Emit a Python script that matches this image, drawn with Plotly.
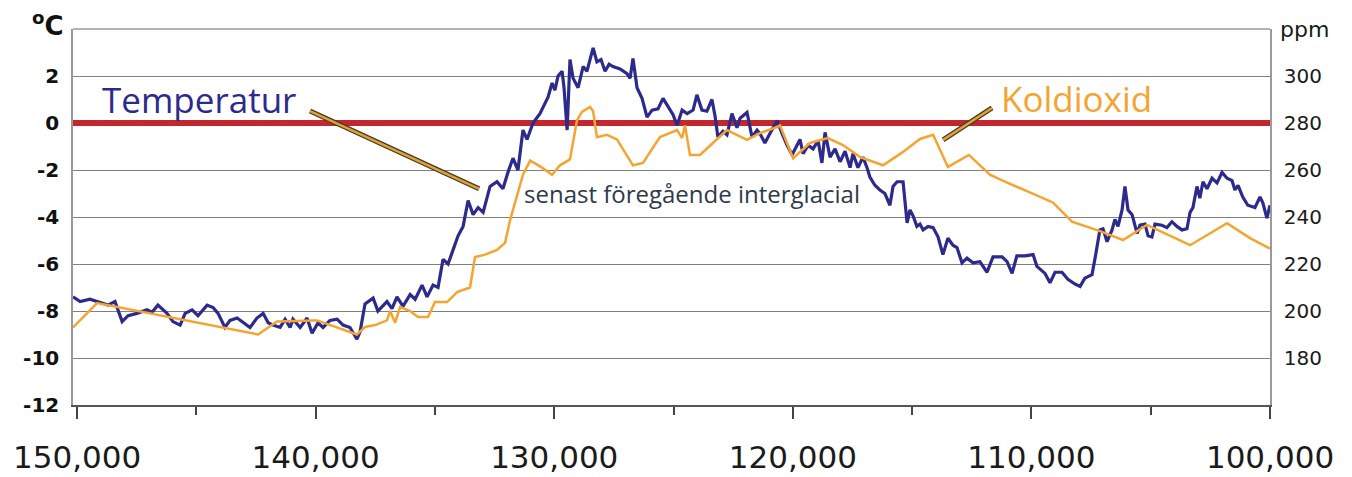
import plotly.graph_objects as go

# temperature anomaly (deg C), years before present
temp_age = [
    150170, 149870, 149460, 149040, 148700, 148410, 148110, 147860, 147490, 147070,
    146860, 146610, 146230, 145980, 145680, 145470, 145180, 144930, 144550, 144300,
    144090, 143800, 143590, 143290, 143040, 142750, 142460, 142200, 141990, 141790,
    141490, 141280, 141070, 140950, 140650, 140360, 140150, 139900, 139690, 139400,
    139100, 138850, 138560, 138270, 138140, 137930, 137590, 137390, 137010, 136800,
    136590, 136340, 136040, 135830, 135540, 135330, 135080, 134870, 134660, 134450,
    134240, 134030, 133820, 133610, 133400, 133190, 132980, 132690, 132400, 132150,
    131940, 131730, 131520, 131310, 131140, 130890, 130600, 130390, 130260, 130090,
    129970, 129840, 129670, 129590, 129460, 129340, 129210, 129000, 128790, 128630,
    128500, 128370, 128210, 128040, 127870, 127700, 127540, 127240, 126950, 126820,
    126700, 126530, 126320, 126110, 125900, 125650, 125440, 125230, 125020, 124850,
    124640, 124430, 124180, 124020, 123810, 123600, 123390, 123260, 123140, 122930,
    122760, 122550, 122340, 122210, 121920, 121710, 121500, 121380, 121170, 120960,
    120660, 120450, 120240, 120030, 119820, 119700, 119570, 119360, 119150, 118940,
    118780, 118650, 118440, 118230, 118020, 117810, 117600, 117480, 117270, 117060,
    116890, 116770, 116560, 116350, 116140, 115930, 115800, 115630, 115380, 115210,
    115090, 114960, 114800, 114670, 114540, 114330, 114120, 113910, 113710, 113500,
    113290, 113120, 112910, 112700, 112450, 112160, 111860, 111610, 111230, 111020,
    110810, 110610, 110270, 109930, 109770, 109430, 109220, 109010, 108720, 108470,
    108170, 107960, 107760, 107460, 107340, 107130, 107000, 106830, 106620, 106500,
    106370, 106200, 106080, 105950, 105780, 105570, 105450, 105240, 105110, 104950,
    104820, 104530, 104320, 104110, 103900, 103690, 103480, 103350, 103230, 103060,
    102940, 102810, 102640, 102430, 102220, 102010, 101800, 101590, 101470, 101340,
    101140, 100930, 100630, 100420, 100300, 100130, 100000,
]
temp_c = [
    -7.4, -7.6, -7.5, -7.65, -7.75, -7.6, -8.45, -8.2, -8.1, -7.95,
    -8.05, -7.75, -8.1, -8.45, -8.6, -8.1, -7.95, -8.2, -7.75, -7.85,
    -8.1, -8.7, -8.4, -8.3, -8.5, -8.7, -8.3, -8.1, -8.5, -8.6,
    -8.7, -8.35, -8.7, -8.35, -8.7, -8.3, -8.95, -8.5, -8.7, -8.4,
    -8.35, -8.6, -8.7, -9.2, -8.9, -7.7, -7.45, -8.0, -7.6, -7.9,
    -7.4, -7.8, -7.3, -7.5, -6.9, -7.4, -6.9, -7.0, -5.8, -6.0,
    -5.4, -4.8, -4.4, -3.3, -3.9, -3.6, -3.8, -2.7, -2.5, -2.8,
    -2.1, -1.5, -2.0, -0.3, -0.7, 0.0, 0.4, 0.8, 1.1, 1.7,
    1.4, 2.0, 2.2, 1.5, -0.3, 2.7, 1.9, 1.5, 2.4, 2.2,
    2.75, 3.2, 2.6, 2.7, 2.2, 2.5, 2.4, 2.3, 2.1, 1.9,
    2.75, 1.5, 1.05, 0.25, 0.55, 0.6, 1.05, 0.7, 0.35, -0.1,
    0.55, 0.4, 0.55, 1.2, 0.55, 0.5, 1.0, 0.3, -0.6, -0.35,
    -0.5, 0.4, -0.2, 0.2, 0.45, -0.6, -0.3, -0.45, -0.85, -0.45,
    0.1, -0.45, -0.95, -1.35, -0.95, -0.7, -1.3, -0.95, -1.1, -0.75,
    -1.7, -0.4, -1.45, -1.1, -1.65, -1.2, -1.9, -1.3, -1.9, -1.45,
    -1.9, -2.3, -2.65, -2.85, -3.0, -3.5, -2.7, -2.5, -2.5, -4.25,
    -3.7, -3.95, -4.4, -4.3, -4.55, -4.4, -4.45, -4.85, -5.6, -4.9,
    -5.2, -5.3, -5.95, -5.75, -5.95, -5.9, -6.35, -5.7, -5.7, -5.9,
    -6.4, -5.65, -5.65, -5.6, -6.1, -6.4, -6.8, -6.35, -6.35, -6.65,
    -6.85, -6.95, -6.6, -6.45, -5.8, -4.55, -4.5, -5.05, -4.55, -4.1,
    -4.4, -3.7, -2.7, -3.7, -3.9, -4.7, -4.35, -4.3, -4.8, -4.85,
    -4.3, -4.35, -4.45, -4.2, -4.4, -4.55, -4.5, -3.8, -3.6, -2.7,
    -3.2, -2.5, -2.8, -2.35, -2.55, -2.1, -2.35, -2.45, -2.85, -2.65,
    -3.15, -3.5, -3.6, -3.15, -3.4, -4.05, -3.5,
]

# carbon dioxide (ppm)
co2_age = [
    150170, 149160, 142410, 141620, 140110, 139940, 138270, 137930, 137510, 137010,
    136880, 136670, 136460, 136040, 135710, 135290, 135000, 134490, 134070, 133530,
    133320, 132900, 132400, 132060, 131850, 131560, 131310, 131010, 130510, 130090,
    129760, 129340, 129050, 128840, 128500, 128370, 128210, 127790, 127370, 126700,
    126280, 125570, 124850, 124640, 124520, 124310, 123890, 123350, 122760, 121920,
    121380, 120660, 120540, 119990, 119280, 118530, 117900, 117180, 116220, 115380,
    114670, 114120, 113500, 112620, 111740, 111320, 109100, 108300, 107130, 106160,
    105160, 103350, 101800, 100840, 100000,
]
co2_ppm = [
    193, 203.4, 190, 195.5, 196, 196, 190, 193.2, 194, 196,
    200, 195, 201.7, 200, 197.4, 197.4, 203.8, 203.8, 208, 210,
    223, 224, 226, 229, 238.7, 248.5, 258, 264, 261, 258,
    262, 264.5, 281, 284.7, 286.8, 285, 274, 275, 273, 262,
    263, 274, 277, 273.6, 279, 266.4, 266.4, 271.5, 277, 272.8,
    275.7, 278.3, 279, 265, 271.5, 273.6, 270.6, 265.5, 262, 267.7,
    273.2, 275, 261.3, 266.4, 258, 256, 246.2, 238, 234, 230.2,
    236.6, 228, 237.4, 231, 226.5,
]

age_ticks = [150000, 140000, 130000, 120000, 110000, 100000]
temp_ticks = [-12, -10, -8, -6, -4, -2, 0, 2]
temp_labels = ["-12", "-10", "-8", "-6", "-4", "-2", "0", "2"]
co2_ticks = [180, 200, 220, 240, 260, 280, 300]

NAVY = "#2c2a8c"
ORANGE = "#f5a431"
GRID = "#808080"

fig = go.Figure()
fig.add_trace(go.Scatter(x=temp_age, y=temp_c, mode="lines",
                         line=dict(color=NAVY, width=3.2), name="Temperatur"))
fig.add_trace(go.Scatter(x=co2_age, y=co2_ppm, mode="lines", yaxis="y2",
                         line=dict(color=ORANGE, width=2.5), name="Koldioxid"))

# the page body keeps its default 8px margin, so the figure is 8px smaller
fig.update_layout(
    width=1344, height=469,
    margin=dict(l=65, r=82, t=21, b=72),
    plot_bgcolor="white",
    paper_bgcolor="white",
    showlegend=False,
    xaxis=dict(
        range=[150170, 100000],
        tickvals=age_ticks,
        tickformat=",d",
        automargin=False,
        showgrid=False, zeroline=False,
        showline=True, linecolor="#555", linewidth=1.5,
        ticks="outside", ticklen=12, tickwidth=1.5, tickcolor="#444",
        minor=dict(dtick=5000, tick0=100000, ticks="outside", ticklen=8,
                   tickwidth=1.5, tickcolor="#444"),
        tickfont=dict(family="DejaVu Sans", size=31, color="#1a1a1a"),
        ticklabelstandoff=12,
    ),
    yaxis=dict(
        range=[-12, 4],
        tickvals=temp_ticks,
        ticktext=temp_labels,
        automargin=False,
        showgrid=True, gridcolor=GRID, gridwidth=1.3,
        zeroline=True, zerolinecolor="#c1272d", zerolinewidth=6,
        showline=True, linecolor="#9a9a9a", linewidth=1.5,
        tickfont=dict(family="DejaVu Sans", size=20, color="#111", weight="bold"),
        ticklabelstandoff=8,
    ),
    yaxis2=dict(
        range=[160, 320],
        overlaying="y", side="right",
        tickvals=co2_ticks,
        automargin=False,
        showgrid=False, zeroline=False,
        showline=True, linecolor="#9a9a9a", linewidth=1.5,
        tickfont=dict(family="DejaVu Sans", size=20, color="#1a1a1a"),
        ticklabelstandoff=8,
    ),
)

# top frame line of the plot area
fig.add_shape(type="line", xref="paper", yref="paper", x0=0, x1=1, y0=1, y1=1,
              line=dict(color="#9a9a9a", width=1.5))

# leader lines for the labels
for (x0, y0, x1, y1) in [(140235, 0.51, 133150, -2.8), (111650, 0.64, 113700, -0.72)]:
    fig.add_shape(type="line", x0=x0, y0=y0, x1=x1, y1=y1,
                  line=dict(color="#4a3a1e", width=5))
    fig.add_shape(type="line", x0=x0, y0=y0, x1=x1, y1=y1,
                  line=dict(color="#dca23c", width=2.5))

fig.add_annotation(x=144880, y=1.02, text="Temperatur", showarrow=False,
                   font=dict(family="Open Sans", size=35, color=NAVY))
fig.add_annotation(x=108130, y=1.05, text="Koldioxid", showarrow=False,
                   font=dict(family="Open Sans", size=35, color=ORANGE))
fig.add_annotation(x=124225, y=-3.0, text="senast föregående interglacial",
                   showarrow=False,
                   font=dict(family="Open Sans", size=24, color="#2d3a4c"))

fig.add_annotation(xref="paper", yref="paper", x=-0.006, y=1.0, yanchor="bottom",
                   xanchor="right", text="<b><sup>o</sup>C</b>", showarrow=False,
                   yshift=-14, font=dict(family="DejaVu Sans", size=26, color="#111"))
fig.add_annotation(xref="paper", yref="paper", x=1.007, y=1.0, xanchor="left",
                   yanchor="middle", text="ppm", showarrow=False,
                   font=dict(family="DejaVu Sans", size=22, color="#1a1a1a"))

fig.write_html("out.html")
